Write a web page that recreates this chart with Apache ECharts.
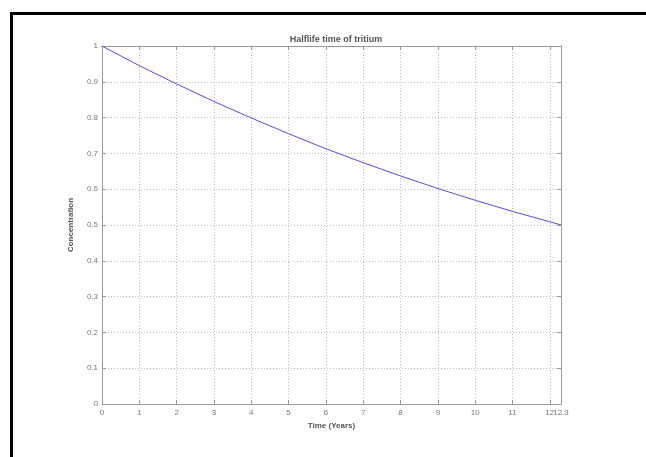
<!DOCTYPE html>
<html>
<head>
<meta charset="utf-8">
<style>
  html, body { margin: 0; padding: 0; background: #fff; }
  #chart { width: 646px; height: 457px; }
</style>
<script src="https://cdn.jsdelivr.net/npm/echarts@6/dist/echarts.min.js"></script>
</head>
<body>
<div id="chart"></div>
<script>
// values
var years = [0, 1, 2, 3, 4, 5, 6, 7, 8, 9, 10, 11, 12, 12.3];
var concentration = [1, 0.945, 0.894, 0.845, 0.799, 0.755, 0.713, 0.674, 0.637, 0.602, 0.569, 0.538, 0.509, 0.5];
var xEnd = 12.3;
var titleText = 'Halflife time of tritium';
var xName = 'Time (Years)';
var yName = 'Concentration';

var chart = echarts.init(document.getElementById('chart'));

var points = years.map(function (t, i) { return [t, concentration[i]]; });

var labelFont = { color: '#777', fontSize: 8, fontFamily: 'Liberation Sans' };
var gridLine = { show: true, lineStyle: { color: '#bbb', type: [1, 2], width: 1 } };
var boxLine = { show: true, onZero: false, lineStyle: { color: '#999', width: 1 } };
var inTick = { show: true, inside: true, length: 4, lineStyle: { color: '#999' } };

var option = {
    animation: false,
    backgroundColor: '#fff',
    title: {
        text: titleText,
        left: 331,
        textAlign: 'center',
        top: 30,
        textStyle: { color: '#555', fontSize: 9, fontWeight: 'bold', fontFamily: 'Liberation Sans' }
    },
    grid: { left: 102, top: 46, width: 459, height: 358, containLabel: false },
    xAxis: [{
        type: 'value',
        min: 0,
        max: xEnd,
        interval: 1,
        name: xName,
        nameLocation: 'middle',
        nameGap: 15,
        nameTextStyle: { color: '#555', fontSize: 8, fontWeight: 'bold', fontFamily: 'Liberation Sans' },
        axisLine: boxLine,
        axisTick: inTick,
        axisLabel: Object.assign({ margin: 5, showMaxLabel: false, hideOverlap: false }, labelFont),
        splitLine: gridLine
    }, {
        type: 'value',
        position: 'top',
        min: 0,
        max: xEnd,
        interval: 1,
        axisLine: boxLine,
        axisTick: inTick,
        axisLabel: { show: false },
        splitLine: { show: false }
    }, {
        // end-of-range label (MATLAB prints it over the 12)
        type: 'value',
        position: 'bottom',
        min: 0,
        max: xEnd,
        interval: xEnd,
        axisLine: { show: false },
        axisTick: { show: false },
        axisLabel: Object.assign({
            margin: 5,
            showMinLabel: false,
            formatter: function (v) { return v === 0 ? '' : String(v); }
        }, labelFont),
        splitLine: { show: false }
    }],
    yAxis: [{
        type: 'value',
        min: 0,
        max: 1,
        interval: 0.1,
        name: yName,
        nameLocation: 'middle',
        nameGap: 27,
        nameTextStyle: { color: '#555', fontSize: 8, fontWeight: 'bold', fontFamily: 'Liberation Sans' },
        axisLine: boxLine,
        axisTick: inTick,
        axisLabel: Object.assign({ margin: 4 }, labelFont),
        splitLine: gridLine
    }, {
        type: 'value',
        position: 'right',
        min: 0,
        max: 1,
        interval: 0.1,
        axisLine: boxLine,
        axisTick: inTick,
        axisLabel: { show: false },
        splitLine: { show: false }
    }],
    graphic: [
        { type: 'rect', shape: { x: 10, y: 12, width: 636, height: 3 }, style: { fill: '#000' } },
        { type: 'rect', shape: { x: 10, y: 12, width: 3, height: 445 }, style: { fill: '#000' } }
    ],
    series: [{
        type: 'line',
        data: points,
        showSymbol: false,
        lineStyle: { color: '#5050e0', width: 1 }
    }]
};

chart.setOption(option);
</script>
</body>
</html>
